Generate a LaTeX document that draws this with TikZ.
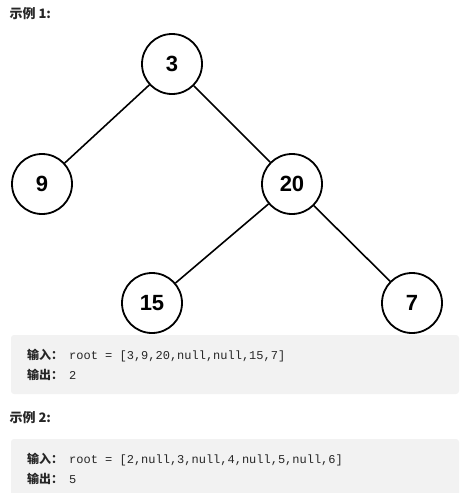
\documentclass[tikz,border=0pt]{standalone}
\usepackage{fontspec}
\setmainfont{Liberation Sans}
\setmonofont{Liberation Mono}
\newfontfamily\cjk{Noto Sans CJK SC}
\begin{document}
\begin{tikzpicture}[x=1pt,y=-1pt,
  tnode/.style={circle,draw=black,line width=1.8pt,minimum size=60pt,inner sep=0pt,fill=white,font=\fontsize{22}{22}\selectfont\bfseries},
  edge/.style={line width=1.6pt,black},
  codebox/.style={fill=black!5,draw=none,rounded corners=3pt},
  head/.style={anchor=base west,font=\cjk\fontsize{13}{13}\selectfont\bfseries,text=black!85},
  code/.style={anchor=base west,inner sep=0pt,font=\fontsize{12}{12}\selectfont,text=black!85}]
\useasboundingbox (0,0) rectangle (459,493);
\node[head] (h1) at (6,18) {示例 1:};
\node[tnode] (n3) at (172,64) {3};
\node[tnode] (n9) at (42,184) {9};
\node[tnode] (n20) at (292,184) {20};
\node[tnode] (n15) at (152,303) {15};
\node[tnode] (n7) at (412,303) {7};
\draw[edge] (n3) -- (n9);
\draw[edge] (n3) -- (n20);
\draw[edge] (n20) -- (n15);
\draw[edge] (n20) -- (n7);
\fill[codebox] (11,335) rectangle (459,394);
\node[code] (i1) at (27,359) {{\cjk\bfseries 输入：}\hspace{6pt}\ttfamily root = [3,9,20,null,null,15,7]};
\node[code] (o1) at (27,379) {{\cjk\bfseries 输出：}\hspace{6pt}\ttfamily 2};
\node[head] (h2) at (6,422) {示例 2:};
\fill[codebox] (11,439) rectangle (459,500);
\node[code] (i2) at (27,463) {{\cjk\bfseries 输入：}\hspace{6pt}\ttfamily root = [2,null,3,null,4,null,5,null,6]};
\node[code] (o2) at (27,483) {{\cjk\bfseries 输出：}\hspace{6pt}\ttfamily 5};
\end{tikzpicture}
\end{document}
